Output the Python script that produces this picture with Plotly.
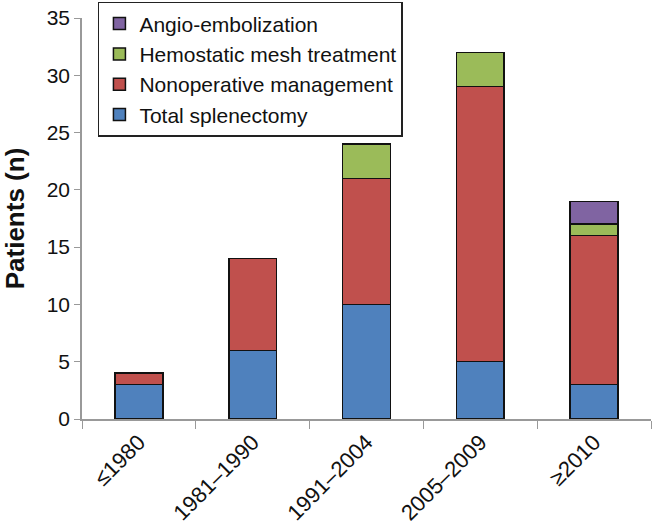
import plotly.graph_objects as go

categories = ["≤1980", "1981–1990", "1991–2004", "2005–2009", "≥2010"]
total_splenectomy = [3, 6, 10, 5, 3]
nonoperative = [1, 8, 11, 24, 13]
hemostatic_mesh = [None, None, 3, 3, 1]
angio_embolization = [None, None, None, None, 2]

series = [
    ("Total splenectomy", total_splenectomy, "#4F81BD"),
    ("Nonoperative management", nonoperative, "#C0504D"),
    ("Hemostatic mesh treatment", hemostatic_mesh, "#9BBB59"),
    ("Angio-embolization", angio_embolization, "#8064A2"),
]

fig = go.Figure()
for name, vals, color in series:
    fig.add_trace(go.Bar(
        x=categories, y=vals, name=name,
        marker=dict(color=color, line=dict(color="#111111", width=1.5)),
    ))

fig.update_layout(
    barmode="stack",
    bargap=0.58,
    width=652, height=524,
    margin=dict(l=82, r=1, t=18, b=105),
    plot_bgcolor="white", paper_bgcolor="white",
    font=dict(family="Arial, Liberation Sans, sans-serif", size=21, color="#111111"),
    legend=dict(
        traceorder="reversed",
        x=0.028, y=1.04, xanchor="left", yanchor="top",
        bordercolor="#222222", borderwidth=1.5,
        bgcolor="white",
        font=dict(size=21),
        itemwidth=30,
        tracegroupgap=0,
    ),
    showlegend=True,
)
fig.update_yaxes(
    range=[0, 35], dtick=5, automargin=False,
    showgrid=False, zeroline=False,
    showline=True, linecolor="#999999", linewidth=1.5,
    ticks="outside", ticklen=6, tickcolor="#999999",
    tickfont=dict(size=21),
    title=dict(text="<b>Patients (n)</b>", font=dict(size=26), standoff=18),
)
fig.update_xaxes(
    automargin=False,
    showgrid=False,
    showline=True, linecolor="#999999", linewidth=1.5,
    ticks="outside", ticklen=8, tickcolor="#999999",
    tickson="boundaries",
    tickangle=-45,
    tickfont=dict(size=22),
)

fig.write_html(
    "out.html",
    config={"displayModeBar": False},
    post_script="document.body.style.margin='0';document.body.style.overflow='hidden';",
)
